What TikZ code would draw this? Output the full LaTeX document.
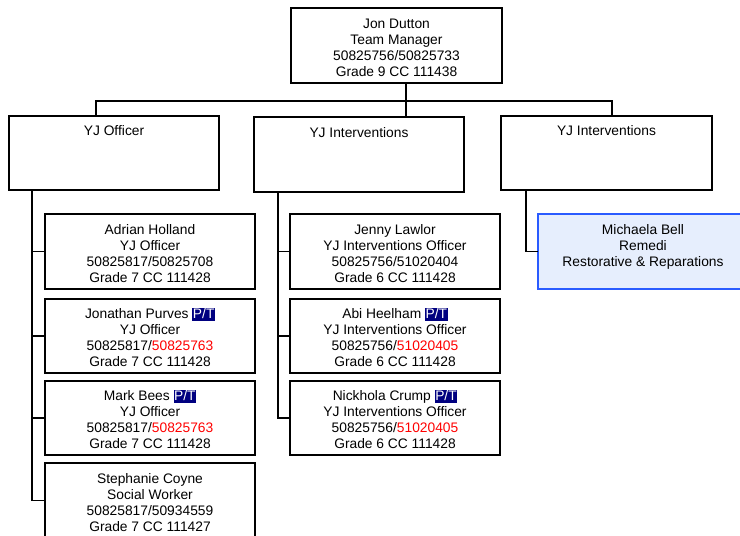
\documentclass[tikz,border=0pt]{standalone}
\usepackage{fontspec}
\setmainfont{Liberation Sans}
\usetikzlibrary{calc}
\definecolor{ptnavy}{HTML}{000080}
\definecolor{nored}{HTML}{FF0000}
\definecolor{michfill}{HTML}{E6EEFD}
\definecolor{michdraw}{HTML}{2A5BFF}
\newcommand{\ptmark}{{\setlength{\fboxsep}{0.5pt}\colorbox{ptnavy}{\rule[-2pt]{0pt}{11.5pt}\textcolor{white}{P/T}}}}
\newcommand{\rednum}[1]{\textcolor{nored}{#1}}
\tikzset{
  txt/.style={font=\fontsize{13.8}{16}\selectfont, align=center, inner sep=0pt},
  box/.style={draw=black, line width=1.6pt, fill=white, inner sep=0pt, outer sep=0pt},
  michbox/.style={draw=michdraw, line width=1.6pt, fill=michfill, inner sep=0pt, outer sep=0pt},
  conn/.style={draw=black, line width=1.6pt},
}
\begin{document}
\begin{tikzpicture}[x=1pt,y=-1pt]
\useasboundingbox (0,0) rectangle (740,536);
% top
\node[box, minimum width=211, minimum height=75] (top) at (396.5,45.5) {};
\node[txt] (topt) at ($(top)+(0,2)$) {Jon Dutton\\Team Manager\\50825756/50825733\\Grade 9 CC 111438};
% level 2
\node[box, minimum width=210, minimum height=74] (off) at (114,153) {};
\node[txt, anchor=north] (offt) at ($(off.north)+(0,9)$) {YJ Officer};
\node[box, minimum width=210, minimum height=75] (int) at (359,154.5) {};
\node[txt, anchor=north] (intt) at ($(int.north)+(0,10)$) {YJ Interventions};
\node[box, minimum width=211, minimum height=74] (rint) at (606.5,153) {};
\node[txt, anchor=north] (rintt) at ($(rint.north)+(0,9)$) {YJ Interventions};
% bus
\coordinate (bus) at (406,101);
\draw[conn] ($(top.south west)+(115,0)$) -- (bus);
\draw[conn] (bus) -| ($(int.north west)+(152,0)$);
\draw[conn] (bus) -| ($(off.north west)+(87,0)$);
\draw[conn] (bus) -| ($(rint.north west)+(111,0)$);
% left children
\node[box, minimum width=210, minimum height=75] (adrian) at (150,251.5) {};
\node[txt] (adriant) at ($(adrian)+(0,2)$) {Adrian Holland\\YJ Officer\\50825817/50825708\\Grade 7 CC 111428};
\node[box, minimum width=210, minimum height=74] (jon) at (150,336) {};
\node[txt] (jont) at ($(jon)+(0,1)$) {Jonathan Purves \ptmark\\YJ Officer\\50825817/\rednum{50825763}\\Grade 7 CC 111428};
\node[box, minimum width=210, minimum height=74] (mark) at (150,418) {};
\node[txt] (markt) at ($(mark)+(0,1)$) {Mark Bees \ptmark\\YJ Officer\\50825817/\rednum{50825763}\\Grade 7 CC 111428};
\node[box, minimum width=210, minimum height=75] (steph) at (150,500.5) {};
\node[txt] (stepht) at ($(steph)+(0,2)$) {Stephanie Coyne\\Social Worker\\50825817/50934559\\Grade 7 CC 111427};
\coordinate (ltrunk) at ($(off.south west)+(23,0)$);
\draw[conn] (ltrunk) |- (steph.west);
\draw[conn] (ltrunk) |- (adrian.west);
\draw[conn] (ltrunk) |- (jon.west);
\draw[conn] (ltrunk) |- (mark.west);
% middle children
\node[box, minimum width=210, minimum height=75] (jenny) at (395,251.5) {};
\node[txt] (jennyt) at ($(jenny)+(0,2)$) {Jenny Lawlor\\YJ Interventions Officer\\50825756/51020404\\Grade 6 CC 111428};
\node[box, minimum width=210, minimum height=74] (abi) at (395,336) {};
\node[txt] (abit) at ($(abi)+(0,1)$) {Abi Heelham \ptmark\\YJ Interventions Officer\\50825756/\rednum{51020405}\\Grade 6 CC 111428};
\node[box, minimum width=210, minimum height=74] (nick) at (395,418) {};
\node[txt] (nickt) at ($(nick)+(0,1)$) {Nickhola Crump \ptmark\\YJ Interventions Officer\\50825756/\rednum{51020405}\\Grade 6 CC 111428};
\coordinate (mtrunk) at ($(int.south west)+(24,0)$);
\draw[conn] (mtrunk) |- (nick.west);
\draw[conn] (mtrunk) |- (jenny.west);
\draw[conn] (mtrunk) |- (abi.west);
% right child
\node[michbox, minimum width=210, minimum height=75] (mich) at (643,251.5) {};
\node[txt, anchor=north] (micht) at (643,224) {Michaela Bell\\Remedi\\Restorative \& Reparations};
\coordinate (rtrunk) at ($(rint.south west)+(25,0)$);
\draw[conn] (rtrunk) |- (mich.west);
\end{tikzpicture}
\end{document}
